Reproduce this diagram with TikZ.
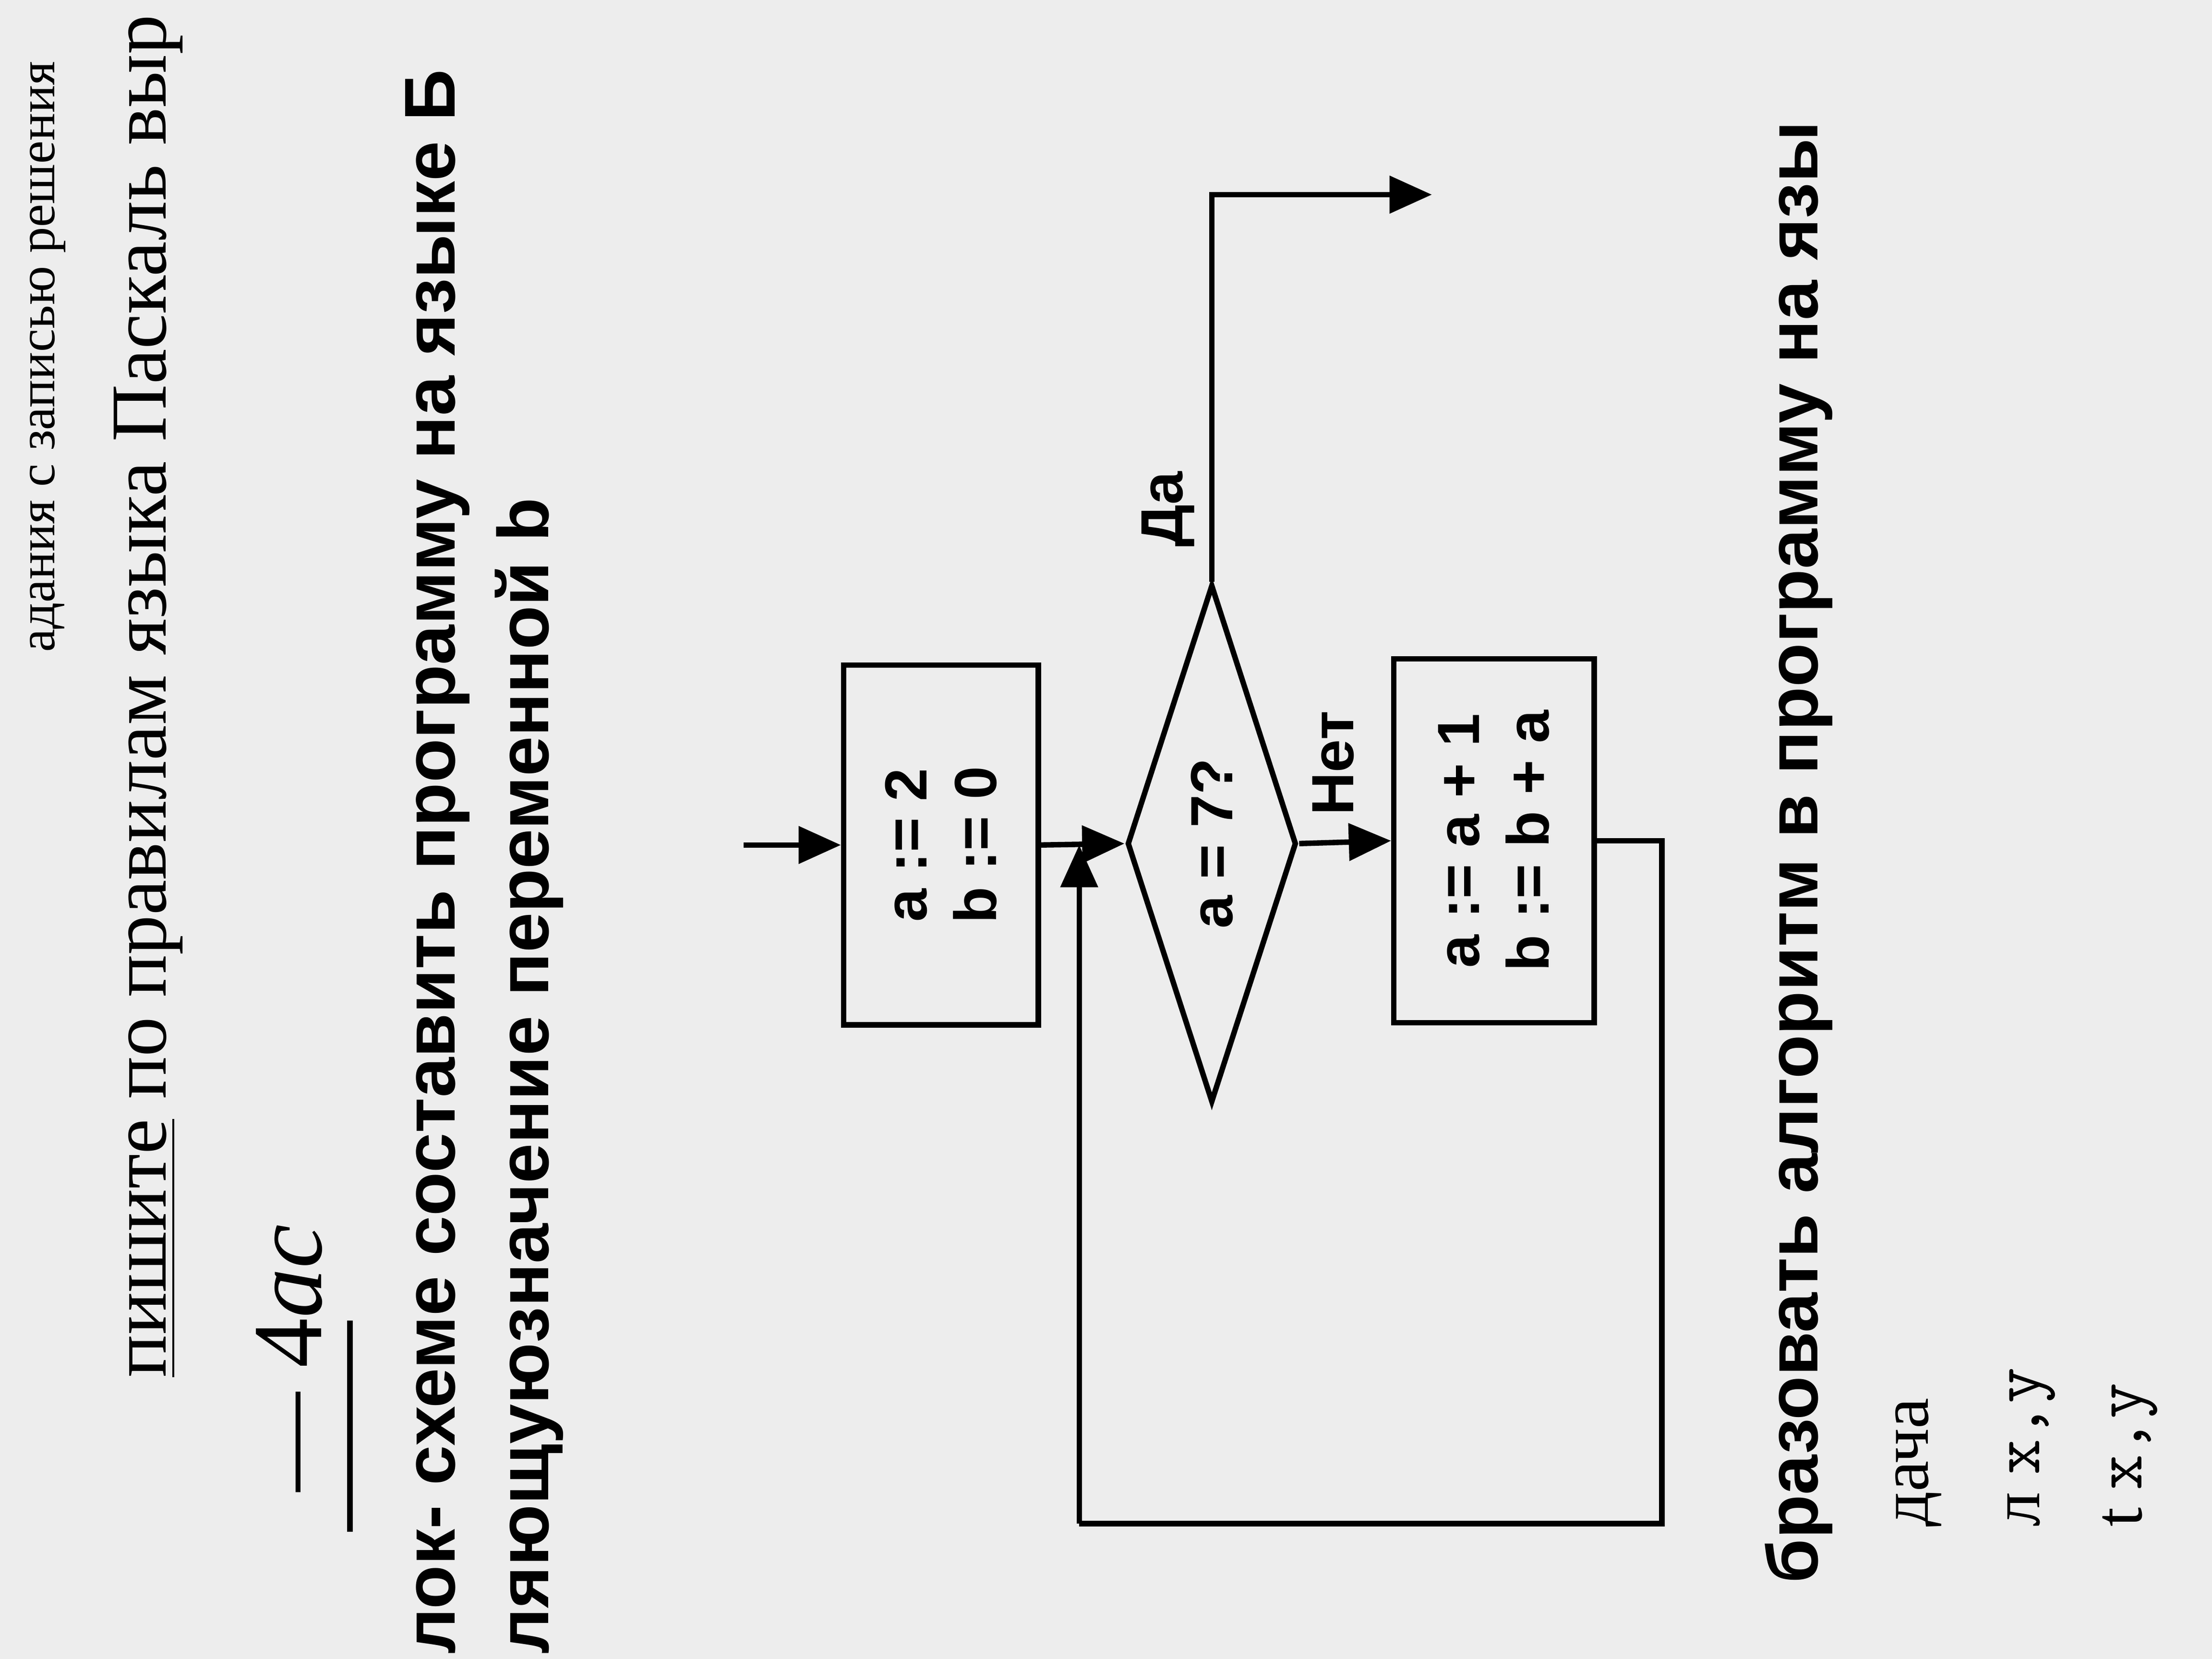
\documentclass[tikz,border=0pt]{standalone}
\usepackage{fontspec}
\setmainfont{Liberation Serif}
\newfontfamily\arialb{Liberation Sans}
\usetikzlibrary{shapes.geometric,arrows.meta}

\begin{document}
\begin{tikzpicture}[line width = 1.1pt,
        >={Triangle[length=3mm,width=2.6mm]},
        block/.style = {draw, rotate = 90, minimum width = 2.55cm, minimum height = 1.38cm,
                        align = center, font = \arialb\bfseries\large},
        test/.style = {draw, diamond, rotate = 90, inner sep = 0pt, minimum width = 3.67cm,
                        minimum height = 1.2cm, shape aspect = 3.0, font = \arialb\bfseries\large},
        tag/.style = {rotate = 90, font = \arialb\bfseries\large},
        line/.style = {rotate = 90, anchor = west, font = \fontsize{14}{16}\selectfont},
        bline/.style = {rotate = 90, anchor = west, font = \arialb\bfseries\fontsize{14.5}{17}\selectfont}]
        \useasboundingbox (0,0) rectangle (15.68,11.76);
        \clip (0,0) rectangle (15.68,11.76);
        \fill[gray!14] (0,0) rectangle (15.68,11.76);
        
        % page text
        \node[line, font = \fontsize{10.5}{12}\selectfont] (t1) at (0.34,7.0) {адания с записью решения};
        \node[line, font = \fontsize{16}{18}\selectfont] (t2) at (1.05,1.86) {\underline{пишите} по правилам языка Паскаль выр};
        \node[line, font = \fontsize{20}{22}\selectfont] (t3) at (2.05,1.05) {— 4\textit{ac}};
        \draw (2.48,0.9) -- (2.48,2.4);
        \node[bline] (t4) at (3.10,-0.1) {лок- схеме составить программу на языке Б};
        \node[bline] (t5) at (3.75,-0.1) {ляющуюзначение переменной b};
        \node[bline] (t6) at (12.75,0.4) {бразовать алгоритм в программу на язы};
        \node[line] (t7) at (13.6,0.8) {дача};
        \node[line] (t8) at (14.4,0.8) {л \texttt{x,y}};
        \node[line] (t9) at (15.1,0.8) {t \texttt{x,y}};
        
        % flowchart
        \node[block] (init) at (6.67,5.77) {a := 2\\ b := 0};
        \node[test] (cond) at (8.59,5.78) {a = 7?};
        \node[block, minimum width = 2.58cm, minimum height = 1.42cm] (step) at (10.59,5.80) {a := a + 1\\ b := b + a};
        
        \coordinate (start) at (5.27,5.77);
        \coordinate (exit) at (10.15,10.38);
        \coordinate (loopA) at (11.78,0.96);
        \coordinate (loopB) at (7.65,0.96);
        \coordinate (join) at (7.65,5.77);
        
        \draw[->] (start) -- (init.north);
        \draw[->] (init.south) -- (cond.north);
        \draw[->] (cond.south) -- (step.north);
        \draw[->] (cond.east) |- (exit);
        \draw (step.south) -| (loopA) -- (loopB);
        \draw[->] (loopB) -- (join);
        
        \node[tag] (no) at (9.45,6.35) {Нет};
        \node[tag] (yes) at (8.28,8.15) {Да};
    \end{tikzpicture}
\end{document}
